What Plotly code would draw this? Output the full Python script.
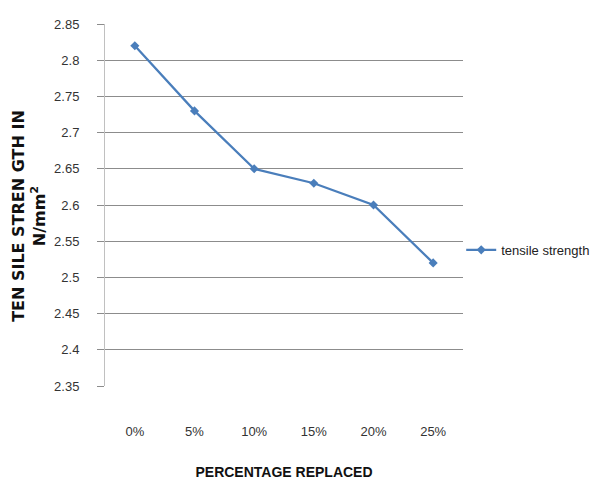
import plotly.graph_objects as go

categories = ["0%", "5%", "10%", "15%", "20%", "25%"]
tensile_strength = [2.82, 2.73, 2.65, 2.63, 2.60, 2.52]
y_ticks = [2.35, 2.4, 2.45, 2.5, 2.55, 2.6, 2.65, 2.7, 2.75, 2.8, 2.85]
y_tick_labels = ["2.35", "2.4", "2.45", "2.5", "2.55", "2.6", "2.65", "2.7", "2.75", "2.8", "2.85"]

narrow = "Liberation Sans Narrow, Arial Narrow, Liberation Sans, sans-serif"

fig = go.Figure()
fig.add_trace(go.Scatter(
    x=categories, y=tensile_strength, mode="lines+markers",
    name="tensile strength",
    line=dict(color="#4a7ebb", width=2.25),
    marker=dict(symbol="diamond", size=7, color="#4a7ebb"),
))

fig.update_layout(
    width=605, height=491,
    margin=dict(l=105, r=142, t=24, b=105, autoexpand=False),
    plot_bgcolor="white", paper_bgcolor="white",
    font=dict(family=narrow, size=13, color="#222222"),
    showlegend=True,
    legend=dict(x=0.995, y=0.376, xanchor="left", yanchor="middle",
                itemwidth=30, font=dict(family=narrow, size=13, color="#222222"),
                bgcolor="rgba(0,0,0,0)"),
    xaxis=dict(
        type="category", range=[-0.5, 5.5],
        showgrid=False, showline=False, zeroline=False,
        ticks="", ticklabelstandoff=36,
        tickfont=dict(family=narrow, size=13, color="#333333"),
        title=dict(text="<b>PERCENTAGE REPLACED</b>", standoff=29,
                   font=dict(family=narrow, size=14, color="#111111")),
    ),
    yaxis=dict(
        range=[2.35, 2.85], tickvals=y_ticks, ticktext=y_tick_labels,
        showgrid=True, gridcolor="#8c8c8c", gridwidth=1,
        showline=True, linecolor="#c0c0c0", linewidth=1,
        ticks="outside", ticklen=7, tickcolor="#8c8c8c",
        ticklabelstandoff=15, zeroline=False,
        tickfont=dict(family=narrow, size=13, color="#333333"),
    ),
    annotations=[dict(
        text="<b>TEN SILE STREN GTH IN<br>N/mm<sup>2</sup></b>",
        textangle=-90, xref="paper", yref="paper",
        x=(29 - 105) / 358, y=0.47, xanchor="center", yanchor="middle",
        showarrow=False,
        font=dict(family="DejaVu Sans, sans-serif", size=16, color="#111111"),
    )],
)

fig.write_html("out.html")
